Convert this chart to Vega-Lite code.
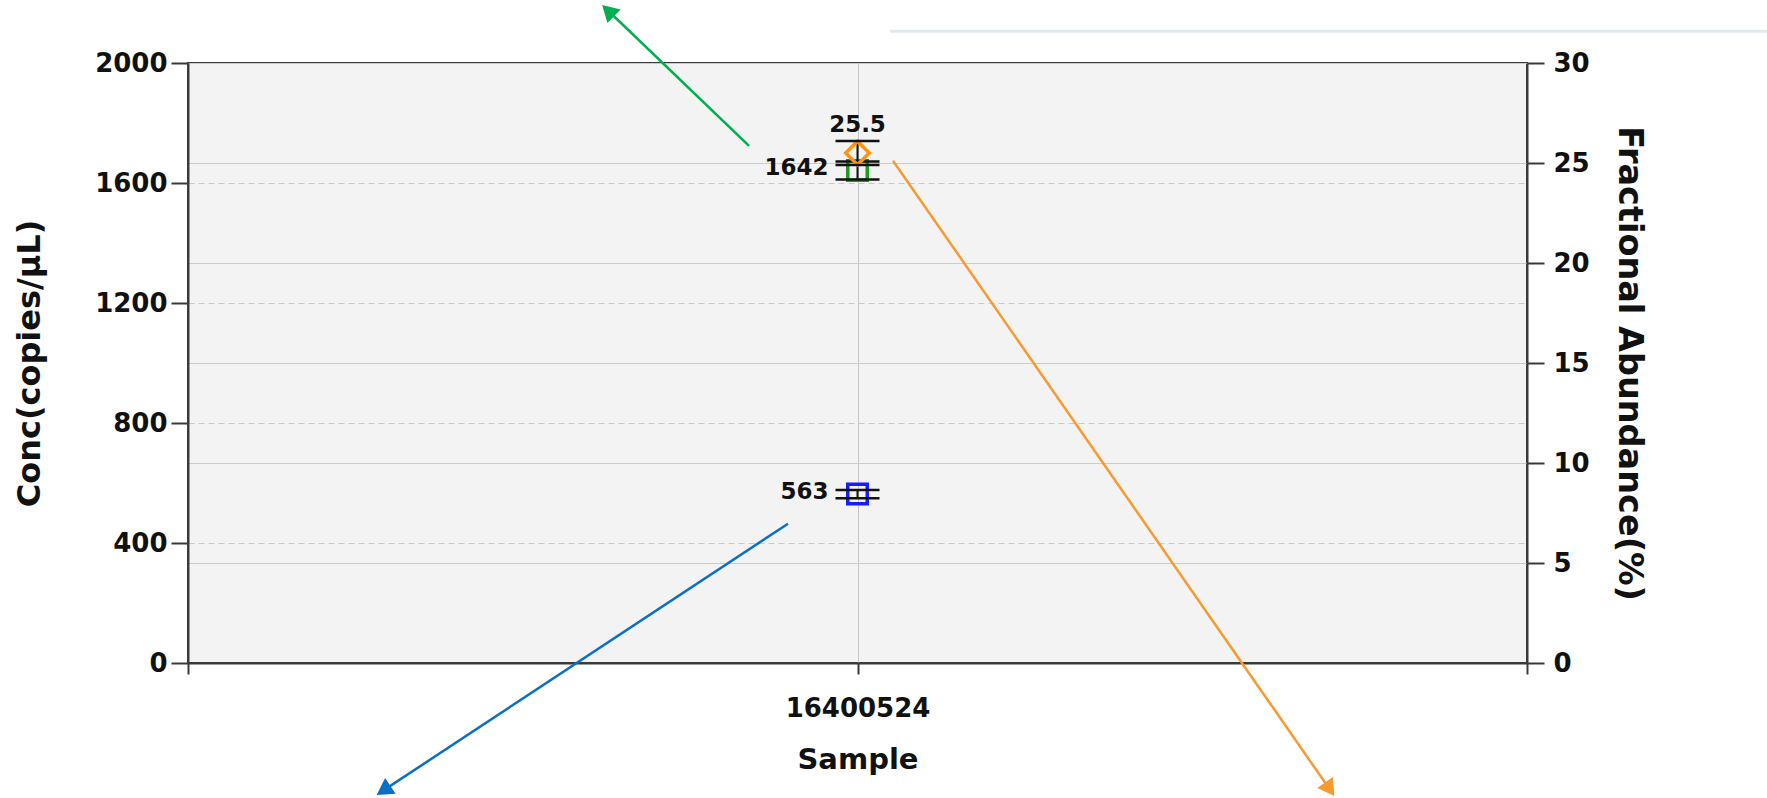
{
  "$schema": "https://vega.github.io/schema/vega-lite/v6.json",
  "width": 1339,
  "height": 600,
  "autosize": {"type": "none"},
  "padding": {"left": 188, "top": 63, "right": 240, "bottom": 135},
  "background": "white",
  "config": {
    "font": "DejaVu Sans",
    "view": {"fill": "#f3f3f3", "stroke": "#3a3a3a", "strokeWidth": 2},
    "axis": {
      "labelFont": "DejaVu Sans",
      "labelFontWeight": "bold",
      "labelFontSize": 26,
      "labelColor": "#111111",
      "titleFont": "DejaVu Sans",
      "titleFontWeight": "bold",
      "titleColor": "#111111",
      "domainColor": "#3a3a3a",
      "domainWidth": 2,
      "tickColor": "#3a3a3a",
      "tickWidth": 2
    }
  },
  "datasets": {
    "conc": [
      {"sample": "16400524", "target": "Ch1", "conc": 1642, "lo": 1612, "hi": 1672},
      {"sample": "16400524", "target": "Ch2", "conc": 563, "lo": 549, "hi": 577}
    ],
    "abundance": [
      {"sample": "16400524", "abundance": 25.5, "lo": 24.9, "hi": 26.1}
    ],
    "arrows": [
      {"name": "Ch1", "x0": 0.419, "y0": 0.862, "x1": 0.3152, "y1": 1.0842},
      {"name": "Ch2", "x0": 0.4481, "y0": 0.2322, "x1": 0.1477, "y1": -0.2098},
      {"name": "Abundance", "x0": 0.5265, "y0": 0.8372, "x1": 0.8515, "y1": -0.2067}
    ],
    "frame": [
      {"x0": 0.5243, "y0": 1.053, "x1": 1.1792, "y1": 1.053}
    ]
  },
  "layer": [
    {
      "data": {"name": "conc"},
      "encoding": {
        "x": {
          "field": "sample",
          "type": "nominal",
          "scale": {"type": "point", "domain": ["start", "16400524", "end"], "padding": 0},
          "axis": {
            "title": "Sample",
            "titleFontSize": 29,
            "titlePadding": 24,
            "tickSize": 11,
            "labelPadding": 21,
            "labelAngle": 0,
            "labelExpr": "datum.value == '16400524' ? datum.value : ''",
            "grid": true,
            "gridColor": "#c4c4c4",
            "gridWidth": 1
          }
        }
      },
      "layer": [
        {
          "mark": {"type": "rule", "color": "#111111", "strokeWidth": 2},
          "encoding": {
            "y": {
              "field": "lo",
              "type": "quantitative",
              "title": "Conc(copies/µL)",
              "scale": {"domain": [0, 2000], "nice": false},
              "axis": {
                "orient": "left",
                "values": [0, 400, 800, 1200, 1600, 2000],
                "format": "d",
                "tickSize": 17,
                "labelPadding": 4,
                "titleFontSize": 32,
                "titlePadding": 48,
                "grid": true,
                "gridColor": "#c8c8c8",
                "gridDash": [6, 4],
                "gridWidth": 1
              }
            },
            "y2": {"field": "hi"}
          }
        },
        {
          "mark": {"type": "point", "shape": "square", "filled": false, "size": 380, "strokeWidth": 3.5, "opacity": 1},
          "encoding": {
            "y": {"field": "conc", "type": "quantitative", "title": "Conc(copies/µL)"},
            "color": {
              "field": "target",
              "type": "nominal",
              "scale": {"domain": ["Ch1", "Ch2"], "range": ["#1e9a1e", "#1a1aff"]},
              "legend": null
            }
          }
        },
        {
          "mark": {"type": "tick", "color": "#111111", "size": 44, "thickness": 2.5, "opacity": 1},
          "encoding": {"y": {"field": "lo", "type": "quantitative", "title": "Conc(copies/µL)"}}
        },
        {
          "mark": {"type": "tick", "color": "#111111", "size": 44, "thickness": 2.5, "opacity": 1},
          "encoding": {"y": {"field": "hi", "type": "quantitative", "title": "Conc(copies/µL)"}}
        },
        {
          "mark": {"type": "text", "align": "right", "baseline": "middle", "dx": -29, "dy": -2, "fontSize": 23, "fontWeight": "bold", "color": "#111111"},
          "encoding": {
            "y": {"field": "conc", "type": "quantitative", "title": "Conc(copies/µL)"},
            "text": {"field": "conc", "type": "quantitative", "format": "d"}
          }
        }
      ]
    },
    {
      "data": {"name": "abundance"},
      "encoding": {
        "x": {
          "field": "sample",
          "type": "nominal",
          "scale": {"type": "point", "domain": ["start", "16400524", "end"], "padding": 0},
          "axis": null
        }
      },
      "layer": [
        {
          "mark": {"type": "rule", "color": "#111111", "strokeWidth": 2},
          "encoding": {
            "y": {
              "field": "lo",
              "type": "quantitative",
              "title": "Fractional Abundance(%)",
              "scale": {"domain": [0, 30], "nice": false},
              "axis": {
                "orient": "right",
                "values": [0, 5, 10, 15, 20, 25, 30],
                "tickSize": 17,
                "labelPadding": 9,
                "titleFontSize": 33.5,
                "titlePadding": 22,
                "grid": true,
                "gridColor": "#cbcbcb",
                "gridWidth": 1
              }
            },
            "y2": {"field": "hi"}
          }
        },
        {
          "mark": {"type": "point", "shape": "diamond", "filled": false, "size": 560, "strokeWidth": 3.5, "color": "#ff9410", "opacity": 1},
          "encoding": {"y": {"field": "abundance", "type": "quantitative", "title": "Fractional Abundance(%)"}}
        },
        {
          "mark": {"type": "tick", "color": "#111111", "size": 44, "thickness": 2.5, "opacity": 1},
          "encoding": {"y": {"field": "hi", "type": "quantitative", "title": "Fractional Abundance(%)"}}
        },
        {
          "mark": {"type": "tick", "color": "#111111", "size": 44, "thickness": 2.5, "opacity": 1},
          "encoding": {"y": {"field": "lo", "type": "quantitative", "title": "Fractional Abundance(%)"}}
        },
        {
          "mark": {"type": "text", "align": "center", "baseline": "alphabetic", "dy": -21, "fontSize": 23, "fontWeight": "bold", "color": "#111111"},
          "encoding": {
            "y": {"field": "abundance", "type": "quantitative", "title": "Fractional Abundance(%)"},
            "text": {"field": "abundance", "type": "quantitative", "format": ".1f"}
          }
        }
      ]
    },
    {
      "layer": [
        {
          "data": {"name": "frame"},
          "mark": {"type": "rule", "color": "#e1e7ee", "strokeWidth": 3, "clip": false},
          "encoding": {
            "x": {"field": "x0", "type": "quantitative", "scale": {"domain": [0, 1], "nice": false, "zero": false}, "axis": null},
            "y": {"field": "y0", "type": "quantitative", "scale": {"domain": [0, 1], "nice": false, "zero": false}, "axis": null},
            "x2": {"field": "x1"},
            "y2": {"field": "y1"}
          }
        },
        {
          "data": {"name": "arrows"},
          "encoding": {
            "x": {"field": "x0", "type": "quantitative", "axis": null},
            "y": {"field": "y0", "type": "quantitative", "axis": null},
            "color": {
              "field": "name",
              "type": "nominal",
              "scale": {"domain": ["Ch1", "Ch2", "Abundance"], "range": ["#00b050", "#0a70c4", "#f79a30"]},
              "legend": null
            }
          },
          "layer": [
            {
              "mark": {"type": "rule", "strokeWidth": 2.5, "clip": false},
              "encoding": {"x2": {"field": "x1"}, "y2": {"field": "y1"}}
            },
            {
              "transform": [{"filter": "datum.name == 'Ch1'"}],
              "mark": {"type": "point", "shape": "triangle", "filled": true, "size": 360, "angle": 313.8, "opacity": 1, "clip": false},
              "encoding": {"x": {"field": "x1", "type": "quantitative", "axis": null}, "y": {"field": "y1", "type": "quantitative", "axis": null}}
            },
            {
              "transform": [{"filter": "datum.name == 'Ch2'"}],
              "mark": {"type": "point", "shape": "triangle", "filled": true, "size": 360, "angle": 236.6, "opacity": 1, "clip": false},
              "encoding": {"x": {"field": "x1", "type": "quantitative", "axis": null}, "y": {"field": "y1", "type": "quantitative", "axis": null}}
            },
            {
              "transform": [{"filter": "datum.name == 'Abundance'"}],
              "mark": {"type": "point", "shape": "triangle", "filled": true, "size": 360, "angle": 145.2, "opacity": 1, "clip": false},
              "encoding": {"x": {"field": "x1", "type": "quantitative", "axis": null}, "y": {"field": "y1", "type": "quantitative", "axis": null}}
            }
          ]
        }
      ]
    }
  ],
  "resolve": {"scale": {"x": "independent", "y": "independent", "color": "independent"}}
}
